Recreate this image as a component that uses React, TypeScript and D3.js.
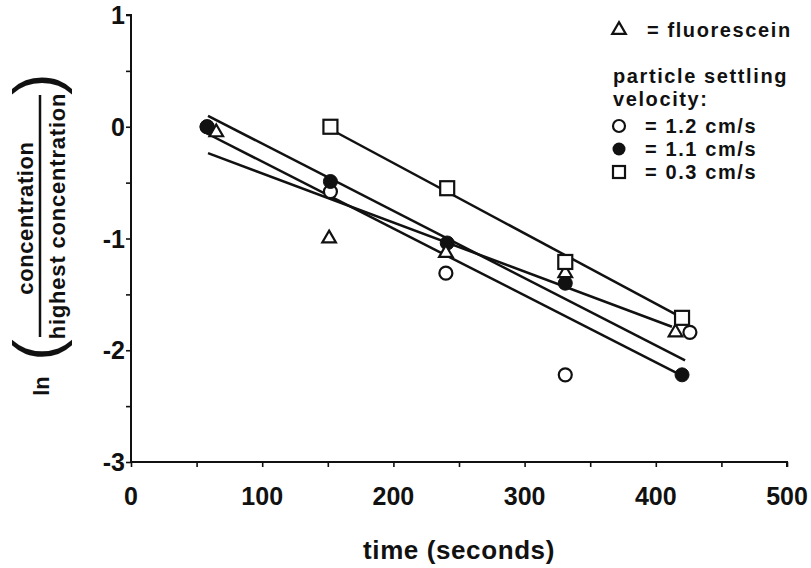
import React, { useEffect, useRef } from "react";
import * as d3 from "d3";

// ---- data (time in seconds, ln(concentration / highest concentration)) ----
const fluoresceinT = [65, 151, 240, 331, 415];
const fluoresceinV = [-0.05, -1.0, -1.13, -1.31, -1.84];
const v12T = [58, 152, 240, 331, 426];
const v12V = [0, -0.58, -1.31, -2.22, -1.84];
const v11T = [58, 152, 241, 331, 420];
const v11V = [0, -0.49, -1.04, -1.4, -2.22];
const v03T = [152, 241, 331, 420];
const v03V = [0, -0.55, -1.21, -1.71];

// fitted lines (start/end in data units)
const fitStartT = [58.7, 57.2, 58.7, 151.7];
const fitStartV = [0.097, -0.056, -0.236, -0.02];
const fitEndT = [422.3, 415.4, 412.3, 418.4];
const fitEndV = [-2.09, -2.2, -1.79, -1.7];

const xTicks = [0, 100, 200, 300, 400, 500];
const xMinorTicks = [0, 50, 100, 150, 200, 250, 300, 350, 400, 450, 500];
const yTicks = [1, 0, -1, -2, -3];
const yMinorTicks = [1, 0.5, 0, -0.5, -1, -1.5, -2, -2.5, -3];

const legendRows = ["= 1.2 cm/s", "= 1.1 cm/s", "= 0.3 cm/s"];

const FONT = "'Liberation Sans', Arial, Helvetica, sans-serif";

export default function App() {
  const ref = useRef<SVGSVGElement>(null);

  useEffect(() => {
    const svg = d3.select(ref.current);
    svg.selectAll("*").remove();

    const x = d3.scaleLinear().domain([0, 500]).range([131, 787]);
    const y = d3.scaleLinear().domain([-3, 1]).range([462, 15]);

    const g = svg.append("g");

    // axes
    const yAxis = d3
      .axisLeft(y)
      .tickValues(yMinorTicks)
      .tickSize(5)
      .tickFormat(() => "");
    const ya = g.append("g").attr("transform", `translate(${x(0)},0)`).call(yAxis);
    ya.select(".domain").attr("stroke", "#111").attr("stroke-width", 2).attr("d", `M-5,${y(1)}H0V${y(-3)}`);
    ya.selectAll(".tick line").attr("stroke", "#111").attr("stroke-width", 1.6);

    const xAxis = d3
      .axisBottom(x)
      .tickValues(xMinorTicks)
      .tickSize(5)
      .tickFormat(() => "");
    const xa = g.append("g").attr("transform", `translate(0,${y(-3)})`).call(xAxis);
    xa.select(".domain").attr("stroke", "#111").attr("stroke-width", 2).attr("d", `M${x(0)},0H${x(500)}V5`);
    xa.selectAll(".tick line").attr("stroke", "#111").attr("stroke-width", 1.6);

    // tick labels
    g.selectAll(".ylab")
      .data(yTicks)
      .enter()
      .append("text")
      .attr("x", x(0) - 6)
      .attr("y", (d) => y(d) + 9)
      .attr("text-anchor", "end")
      .attr("font-family", FONT)
      .attr("font-weight", "bold")
      .attr("font-size", 25)
      .attr("fill", "#111")
      .text((d) => String(d));

    g.selectAll(".xlab")
      .data(xTicks)
      .enter()
      .append("text")
      .attr("x", (d) => x(d))
      .attr("y", y(-3) + 43)
      .attr("text-anchor", "middle")
      .attr("font-family", FONT)
      .attr("font-weight", "bold")
      .attr("font-size", 25)
      .attr("fill", "#111")
      .text((d) => String(d));

    // x title
    g.append("text")
      .attr("x", 459)
      .attr("y", 559)
      .attr("text-anchor", "middle")
      .attr("font-family", FONT)
      .attr("font-weight", "bold")
      .attr("font-size", 26)
      .attr("letter-spacing", 0.6)
      .attr("fill", "#111")
      .text("time (seconds)");

    // y title
    const yt = g.append("g").attr("font-family", FONT).attr("font-weight", "bold").attr("fill", "#111");
    yt.append("text")
      .attr("transform", "rotate(-90)")
      .attr("x", -218)
      .attr("y", 33)
      .attr("text-anchor", "middle")
      .attr("font-size", 22)
      .attr("letter-spacing", 0.6)
      .text("concentration");
    yt.append("line")
      .attr("x1", 40)
      .attr("x2", 40)
      .attr("y1", 95)
      .attr("y2", 337)
      .attr("stroke", "#111")
      .attr("stroke-width", 2.5);
    yt.append("text")
      .attr("transform", "rotate(-90)")
      .attr("x", -216)
      .attr("y", 65)
      .attr("text-anchor", "middle")
      .attr("font-size", 22)
      .attr("letter-spacing", 0.8)
      .text("highest concentration");
    yt.append("text")
      .attr("transform", "rotate(-90)")
      .attr("x", -386)
      .attr("y", 49)
      .attr("text-anchor", "middle")
      .attr("font-size", 22)
      .text("ln");
    yt.append("text")
      .attr("transform", "rotate(-90)")
      .attr("x", -350)
      .attr("y", 59)
      .attr("text-anchor", "middle")
      .attr("font-size", 64)
      .attr("font-weight", "normal")
      .text("(");
    yt.append("text")
      .attr("transform", "rotate(-90)")
      .attr("x", -84)
      .attr("y", 59)
      .attr("text-anchor", "middle")
      .attr("font-size", 64)
      .attr("font-weight", "normal")
      .text(")");

    // fit lines
    const fits = fitStartT.map((t, i) => [
      [t, fitStartV[i]],
      [fitEndT[i], fitEndV[i]],
    ]);
    const line = d3
      .line<number[]>()
      .x((d) => x(d[0]))
      .y((d) => y(d[1]));
    g.selectAll(".fit")
      .data(fits)
      .enter()
      .append("path")
      .attr("d", (d) => line(d))
      .attr("stroke", "#111")
      .attr("stroke-width", 2.5)
      .attr("fill", "none");

    const sw = 2.2;
    // open circles (1.2 cm/s)
    g.selectAll(".c12")
      .data(v12T.map((t, i) => [t, v12V[i]]))
      .enter()
      .append("circle")
      .attr("cx", (d) => x(d[0]))
      .attr("cy", (d) => y(d[1]))
      .attr("r", 6.5)
      .attr("fill", "#fff")
      .attr("stroke", "#111")
      .attr("stroke-width", sw);
    // filled circles (1.1 cm/s)
    g.selectAll(".c11")
      .data(v11T.map((t, i) => [t, v11V[i]]))
      .enter()
      .append("circle")
      .attr("cx", (d) => x(d[0]))
      .attr("cy", (d) => y(d[1]))
      .attr("r", 7)
      .attr("fill", "#111")
      .attr("stroke", "#111")
      .attr("stroke-width", 1);
    // triangles (fluorescein)
    const tri = d3.symbol().type(d3.symbolTriangle).size(80);
    g.selectAll(".tri")
      .data(fluoresceinT.map((t, i) => [t, fluoresceinV[i]]))
      .enter()
      .append("path")
      .attr("d", tri() as string)
      .attr("transform", (d) => `translate(${x(d[0])},${y(d[1])})`)
      .attr("fill", "#fff")
      .attr("stroke", "#111")
      .attr("stroke-width", sw);
    // squares (0.3 cm/s)
    g.selectAll(".sq")
      .data(v03T.map((t, i) => [t, v03V[i]]))
      .enter()
      .append("rect")
      .attr("x", (d) => x(d[0]) - 7)
      .attr("y", (d) => y(d[1]) - 7)
      .attr("width", 14)
      .attr("height", 14)
      .attr("fill", "#fff")
      .attr("stroke", "#111")
      .attr("stroke-width", sw);

    // legend
    const lg = g
      .append("g")
      .attr("font-family", FONT)
      .attr("font-weight", "bold")
      .attr("fill", "#111")
      .attr("font-size", 20)
      .attr("letter-spacing", 1.6);
    lg.append("path")
      .attr("d", tri() as string)
      .attr("transform", "translate(619,30)")
      .attr("fill", "#fff")
      .attr("stroke", "#111")
      .attr("stroke-width", sw);
    lg.append("text").attr("x", 647).attr("y", 37).text("= fluorescein");
    lg.append("text").attr("x", 613).attr("y", 83).text("particle  settling");
    lg.append("text").attr("x", 613).attr("y", 106).text("velocity:");
    const rowY = [126, 149, 172];
    lg.append("circle").attr("cx", 619).attr("cy", rowY[0]).attr("r", 6).attr("fill", "#fff").attr("stroke", "#111").attr("stroke-width", sw);
    lg.append("circle").attr("cx", 619).attr("cy", rowY[1]).attr("r", 6.5).attr("fill", "#111");
    lg.append("rect").attr("x", 613).attr("y", rowY[2] - 6).attr("width", 12).attr("height", 12).attr("fill", "#fff").attr("stroke", "#111").attr("stroke-width", sw);
    legendRows.forEach((t, i) => {
      lg.append("text").attr("x", 645).attr("y", rowY[i] + 7).text(t);
    });
  }, []);

  return (
    <svg
      ref={ref}
      width={811}
      height={568}
      style={{ position: "absolute", left: 0, top: 0, background: "#fff" }}
    />
  );
}
